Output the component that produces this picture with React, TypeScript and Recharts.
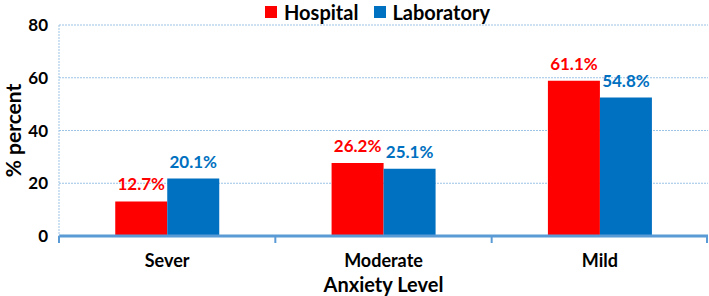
import { BarChart, Bar, XAxis, YAxis, CartesianGrid, Legend, LabelList } from 'recharts'

const categories = ['Sever', 'Moderate', 'Mild']
const hospital = [13.1, 27.7, 58.9]
const laboratory = [21.8, 25.5, 52.5]
const hospitalLabels = ['12.7%', '26.2%', '61.1%']
const laboratoryLabels = ['20.1%', '25.1%', '54.8%']
const yTicks = [0, 20, 40, 60, 80]

const RED = '#FF0000'
const BLUE = '#0070C0'
const FONT = 'Lato, "Open Sans", sans-serif'

const W = 709
const H = 296
const Y_AXIS_W = 59
const RIGHT = 1
const BAND = (W - Y_AXIS_W - RIGHT) / categories.length

const data = categories.map((name, i) => ({
	name,
	hospital: hospital[i],
	laboratory: laboratory[i],
	hospitalLabel: hospitalLabels[i],
	laboratoryLabel: laboratoryLabels[i],
}))

const XTick = (props: any) => {
	const { x, y, payload, index } = props
	const last = index === categories.length - 1
	return (
		<g>
			<line x1={x - BAND / 2} x2={x - BAND / 2} y1={y} y2={y + 7} stroke="#5B9BD5" strokeWidth={2} />
			{last && <line x1={x + BAND / 2 - 1} x2={x + BAND / 2 - 1} y1={y} y2={y + 7} stroke="#5B9BD5" strokeWidth={2} />}
			<text x={x} y={y + 30.5} textAnchor="middle" fontSize={18} fontWeight="bold" fontFamily={FONT} fill="#000">
				{payload.value}
			</text>
		</g>
	)
}

// legend sits in the top 25px, above the 80 gridline
const LegendBox = () => (
	<div style={{ position: 'relative', height: 25, fontFamily: FONT, fontWeight: 'bold', fontSize: 20, color: '#000' }}>
		<div style={{ position: 'absolute', left: 265, top: 0, display: 'flex', alignItems: 'center', lineHeight: '24px' }}>
			<span style={{ width: 12, height: 12, background: RED, display: 'inline-block', marginRight: 7 }} />
			<span style={{ marginRight: 16 }}>Hospital</span>
			<span style={{ width: 12, height: 12, background: BLUE, display: 'inline-block', marginRight: 6 }} />
			<span>Laboratory</span>
		</div>
	</div>
)

export default function App() {
	return (
		<div style={{ position: 'absolute', left: 0, top: 0, background: '#fff' }}>
			<BarChart
				width={W}
				height={H}
				data={data}
				margin={{ top: 0, right: RIGHT, left: 0, bottom: 0 }}
				barCategoryGap="26%"
				barGap={0}
			>
				<Legend verticalAlign="top" align="left" content={LegendBox} wrapperStyle={{ left: 0, top: 0, width: W }} />
				<CartesianGrid vertical={false} stroke="#9DC3E6" strokeDasharray="2 1" />
				<XAxis
					dataKey="name"
					height={60}
					tickSize={0}
					tickMargin={0}
					tickLine={false}
					axisLine={{ stroke: '#5B9BD5', strokeWidth: 3 }}
					tick={XTick}
					interval={0}
					label={(p: any) => {
						const vb = p.viewBox
						return (
							<text x={vb.x + vb.width / 2} y={292} textAnchor="middle" fontSize={20} fontWeight="bold" fontFamily={FONT} fill="#000">
								Anxiety Level
							</text>
						)
					}}
				/>
				<YAxis
					width={Y_AXIS_W}
					domain={[0, 80]}
					ticks={yTicks}
					tickLine={false}
					tickSize={6}
					tickMargin={5}
					axisLine={{ stroke: '#9DC3E6', strokeDasharray: '2 1' }}
					tick={{ fontSize: 17, fontWeight: 'bold', fontFamily: FONT, fill: '#000' }}
					label={(p: any) => {
						const vb = p.viewBox
						const cy = vb.y + vb.height / 2
						return (
							<text x={21} y={cy} transform={`rotate(-90, 21, ${cy})`} textAnchor="middle" fontSize={21} fontWeight="bold" fontFamily={FONT} fill="#000">
								% percent
							</text>
						)
					}}
				/>
				<Bar dataKey="hospital" fill={RED} isAnimationActive={false}>
					<LabelList dataKey="hospitalLabel" position="top" offset={11} fill={RED} fontSize={17} fontWeight="bold" fontFamily={FONT} />
				</Bar>
				<Bar dataKey="laboratory" fill={BLUE} isAnimationActive={false}>
					<LabelList dataKey="laboratoryLabel" position="top" offset={11} fill={BLUE} fontSize={17} fontWeight="bold" fontFamily={FONT} />
				</Bar>
			</BarChart>
		</div>
	)
}
